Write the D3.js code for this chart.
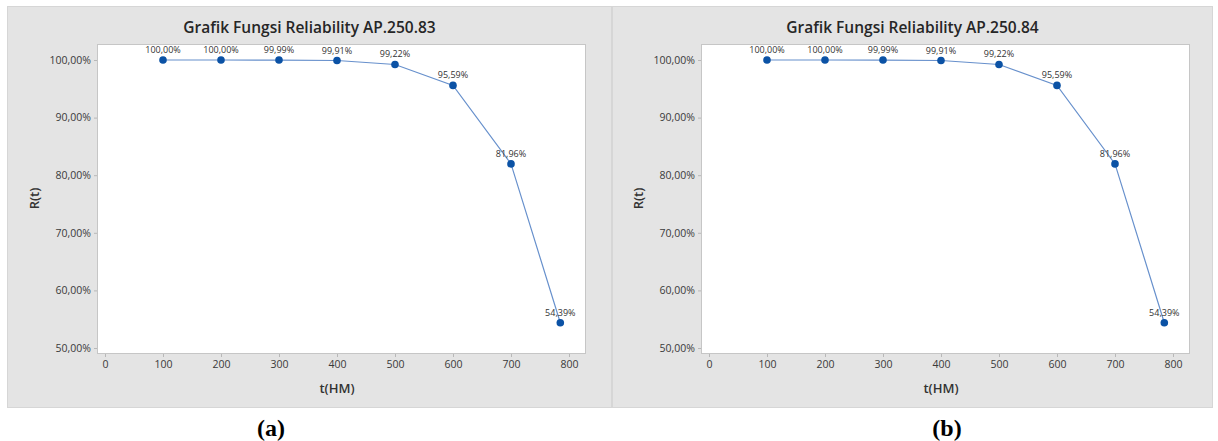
<!DOCTYPE html>
<html>
<head>
<meta charset="utf-8">
<script src="https://cdn.jsdelivr.net/npm/d3@7/dist/d3.min.js"></script>
<style>
  html, body { margin: 0; padding: 0; background: #ffffff; }
  svg { display: block; }
</style>
</head>
<body>
<svg id="chart" width="1218" height="441"></svg>
<script>
// Operating time t (HM) and reliability R(t) in percent
const times = [100, 200, 300, 400, 500, 600, 700, 785];
const reliabilityAP25083 = [100.00, 100.00, 99.99, 99.91, 99.22, 95.59, 81.96, 54.39];
const reliabilityAP25084 = [100.00, 100.00, 99.99, 99.91, 99.22, 95.59, 81.96, 54.39];
const xTicks = [0, 100, 200, 300, 400, 500, 600, 700, 800];
const yTicks = [50, 60, 70, 80, 90, 100];
const panelTitles = ["Grafik Fungsi Reliability AP.250.83", "Grafik Fungsi Reliability AP.250.84"];
const panelCaptions = ["(a)", "(b)"];

const idLocale = d3.formatLocale({ decimal: ",", thousands: ".", grouping: [3], currency: ["Rp", ""] });
const fmtPct = v => idLocale.format(".2f")(v) + "%";

const svg = d3.select("#chart");
const FONT = "'Open Sans', 'Noto Sans', sans-serif";

function drawPanel(opt) {
  const { left, right, title, caption, values } = opt;
  const dx = opt.dx;
  const g = svg.append("g");

  // panel background
  g.append("rect")
    .attr("x", left + 0.5).attr("y", 6.5)
    .attr("width", right - left - 1).attr("height", 401)
    .attr("fill", "#e4e4e4").attr("stroke", "#d6d6d6").attr("stroke-width", 1);

  const frame = { x0: 97 + dx, x1: 585 + dx, y0: 44, y1: 353 };

  const x = d3.scaleLinear().domain([0, 800]).range([105 + dx, 569 + dx]);
  const y = d3.scaleLinear().domain([50, 100]).range([348, 60]);

  // plotting area
  g.append("rect")
    .attr("x", frame.x0 + 0.5).attr("y", frame.y0 + 0.5)
    .attr("width", frame.x1 - frame.x0).attr("height", frame.y1 - frame.y0)
    .attr("fill", "#ffffff").attr("stroke", "#c6c6c6").attr("stroke-width", 1);

  // title
  g.append("text")
    .attr("x", (left + right) / 2).attr("y", 33)
    .attr("text-anchor", "middle")
    .attr("font-family", FONT).attr("font-size", 15.5).attr("font-weight", 600)
    .attr("fill", "#262626")
    .text(title);

  // y axis
  const yAxis = d3.axisLeft(y).tickValues(yTicks).tickSize(3).tickPadding(3)
    .tickFormat(d => fmtPct(d));
  const ya = g.append("g").attr("transform", `translate(${frame.x0},0)`).call(yAxis);
  ya.select(".domain").remove();
  ya.selectAll(".tick line").attr("stroke", "#b8b8b8");
  ya.selectAll(".tick text").attr("font-family", FONT).attr("font-size", 10.5).attr("fill", "#3a3a3a");

  // x axis
  const xAxis = d3.axisBottom(x).tickValues(xTicks).tickSize(3).tickPadding(4);
  const xa = g.append("g").attr("transform", `translate(0,${frame.y1 + 1})`).call(xAxis);
  xa.select(".domain").remove();
  xa.selectAll(".tick line").attr("stroke", "#b8b8b8");
  xa.selectAll(".tick text").attr("font-family", FONT).attr("font-size", 10.5).attr("fill", "#3a3a3a");

  // axis titles
  g.append("text")
    .attr("x", x(400)).attr("y", 393)
    .attr("text-anchor", "middle")
    .attr("font-family", FONT).attr("font-size", 13).attr("font-weight", 600)
    .attr("fill", "#333").text("t(HM)");
  g.append("text")
    .attr("transform", `translate(${39 + dx},${(frame.y0 + frame.y1) / 2}) rotate(-90)`)
    .attr("text-anchor", "middle")
    .attr("font-family", FONT).attr("font-size", 13).attr("font-weight", 600)
    .attr("fill", "#333").text("R(t)");

  const pts = times.map((t, i) => ({ t, r: values[i] }));

  // connecting line
  g.append("path")
    .datum(pts)
    .attr("fill", "none")
    .attr("stroke", "#6790cc").attr("stroke-width", 1.2)
    .attr("d", d3.line().x(d => x(d.t)).y(d => y(d.r)));

  // markers
  g.selectAll("circle.pt").data(pts).join("circle")
    .attr("class", "pt")
    .attr("cx", d => x(d.t)).attr("cy", d => y(d.r)).attr("r", 3.8)
    .attr("fill", "#0b52a5");

  // value labels
  g.selectAll("text.val").data(pts).join("text")
    .attr("class", "val")
    .attr("x", d => x(d.t)).attr("y", d => y(d.r) - 7)
    .attr("text-anchor", "middle")
    .attr("font-family", FONT).attr("font-size", 9).attr("fill", "#333")
    .text(d => fmtPct(d.r));

  // sub-figure caption
  svg.append("text")
    .attr("x", opt.captionX).attr("y", 436)
    .attr("text-anchor", "middle")
    .attr("font-family", "'Liberation Serif', 'Times New Roman', serif")
    .attr("font-size", 24).attr("font-weight", "bold").attr("fill", "#000")
    .text(caption);
}

drawPanel({ left: 7, right: 612, dx: 0, title: panelTitles[0], caption: panelCaptions[0],
            values: reliabilityAP25083, captionX: 271 });
drawPanel({ left: 612, right: 1213, dx: 604, title: panelTitles[1], caption: panelCaptions[1],
            values: reliabilityAP25084, captionX: 947 });
</script>
</body>
</html>
